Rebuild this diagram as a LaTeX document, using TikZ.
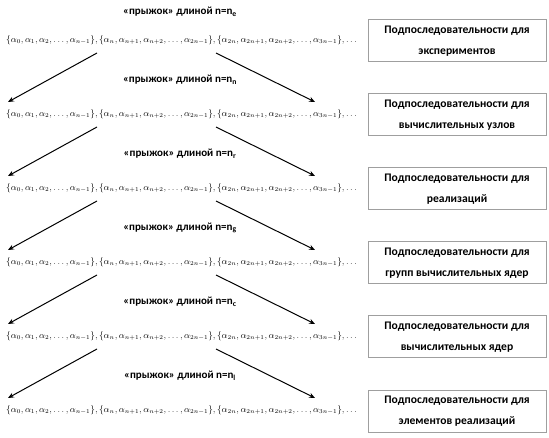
\documentclass[tikz,border=0pt]{standalone}
\usepackage{amsmath,amssymb}
\usepackage{fontspec}
\setmainfont{Carlito}
\usepackage{xcolor}
\usepackage{tikz}
\usetikzlibrary{arrows.meta}

\newcommand{\alseq}{$\{\alpha_0,\alpha_1,\alpha_2,\dots,\alpha_{n-1}\},\{\alpha_n,\alpha_{n+1},\alpha_{n+2},\dots,\alpha_{2n-1}\},\{\alpha_{2n},\alpha_{2n+1},\alpha_{2n+2},\dots,\alpha_{3n-1}\},\dots$}

\begin{document}
\begin{tikzpicture}[x=1pt, y=-1pt,
      seq/.style={anchor=west, inner sep=0pt, font=\fontsize{8.9}{11}\selectfont},
      jump/.style={font=\bfseries\fontsize{11}{13}\selectfont},
      sub/.style={draw=gray!75, line width=1pt, minimum width=178pt, minimum height=42pt,
        align=center, inner sep=0pt, font=\bfseries\fontsize{11.6}{21}\selectfont},
      hop/.style={->, line width=1pt},
      >={Stealth[length=6pt,width=5pt]}]
    \useasboundingbox (0,0) rectangle (549,438);
    % jumps
    \node[jump] (t1) at (180,12)  {«прыжок» длиной n=n\textsubscript{e}};
    \node[jump] (t2) at (180,80)  {«прыжок» длиной n=n\textsubscript{n}};
    \node[jump] (t3) at (180,154) {«прыжок» длиной n=n\textsubscript{r}};
    \node[jump] (t4) at (180,228) {«прыжок» длиной n=n\textsubscript{g}};
    \node[jump] (t5) at (180,302) {«прыжок» длиной n=n\textsubscript{c}};
    \node[jump] (t6) at (180,376) {«прыжок» длиной n=n\textsubscript{l}};
    % sequences
    \node[seq] (r1) at (6,40)  {\alseq};
    \node[seq] (r2) at (6,114) {\alseq};
    \node[seq] (r3) at (6,188) {\alseq};
    \node[seq] (r4) at (6,262) {\alseq};
    \node[seq] (r5) at (6,336) {\alseq};
    \node[seq] (r6) at (6,410) {\alseq};
    % subsequences
    \node[sub] (b1) at (457,41)  {Подпоследовательности для\\экспериментов};
    \node[sub] (b2) at (457,115) {Подпоследовательности для\\вычислительных узлов};
    \node[sub] (b3) at (457,189) {Подпоследовательности для\\реализаций};
    \node[sub] (b4) at (457,263) {Подпоследовательности для\\групп вычислительных ядер};
    \node[sub] (b5) at (457,337) {Подпоследовательности для\\вычислительных ядер};
    \node[sub] (b6) at (457,411) {Подпоследовательности для\\элементов реализаций};
    % hops
    \draw[hop] ([xshift=91pt,yshift=-13pt]r1.west) -- ([xshift=2pt,yshift=12pt]r2.west);
    \draw[hop] ([xshift=210pt,yshift=-13pt]r1.west) -- ([xshift=309pt,yshift=12pt]r2.west);
    \draw[hop] ([xshift=91pt,yshift=-13pt]r2.west) -- ([xshift=2pt,yshift=12pt]r3.west);
    \draw[hop] ([xshift=210pt,yshift=-13pt]r2.west) -- ([xshift=309pt,yshift=12pt]r3.west);
    \draw[hop] ([xshift=91pt,yshift=-13pt]r3.west) -- ([xshift=2pt,yshift=12pt]r4.west);
    \draw[hop] ([xshift=210pt,yshift=-13pt]r3.west) -- ([xshift=309pt,yshift=12pt]r4.west);
    \draw[hop] ([xshift=91pt,yshift=-13pt]r4.west) -- ([xshift=2pt,yshift=12pt]r5.west);
    \draw[hop] ([xshift=210pt,yshift=-13pt]r4.west) -- ([xshift=309pt,yshift=12pt]r5.west);
    \draw[hop] ([xshift=91pt,yshift=-13pt]r5.west) -- ([xshift=2pt,yshift=12pt]r6.west);
    \draw[hop] ([xshift=210pt,yshift=-13pt]r5.west) -- ([xshift=309pt,yshift=12pt]r6.west);
  \end{tikzpicture}
\end{document}
